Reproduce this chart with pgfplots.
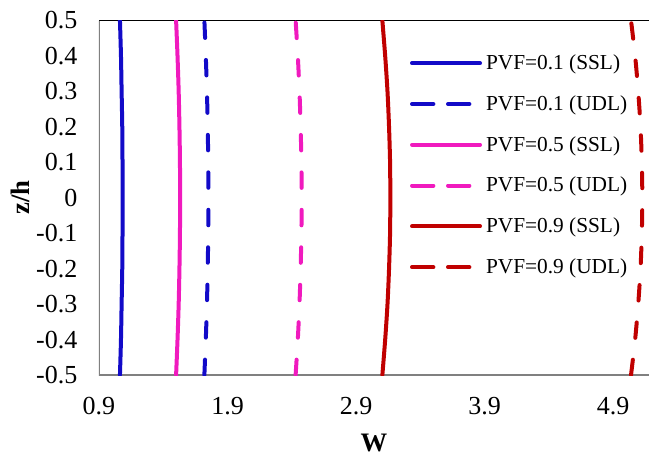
\documentclass[border=0pt]{standalone}
\usepackage{pgfplots}
\pgfplotsset{compat=1.18}
\usepackage{fontspec}
\setmainfont{Liberation Serif}

\definecolor{cblue}{RGB}{18,10,200}
\definecolor{cpink}{RGB}{240,26,190}
\definecolor{cred}{RGB}{192,0,0}
\definecolor{axgray}{RGB}{128,128,128}

\begin{document}
\begin{tikzpicture}
% page frame: room for labels left and below, plot runs to the right edge
\useasboundingbox (-74.25pt,-63.75pt) rectangle (412.5pt,281.3pt);
\begin{axis}[
  at={(0pt,0pt)}, anchor=south west,
  scale only axis,
  width=412.5pt, height=265.9pt,
  xmin=0.9, xmax=5.18,
  ymin=-0.5, ymax=0.5,
  axis line style={draw=none},
  xtick={0.9,1.9,2.9,3.9,4.9},
  xticklabels={0.9,1.9,2.9,3.9,4.9},
  ytick={-0.5,-0.4,-0.3,-0.2,-0.1,0,0.1,0.2,0.3,0.4,0.5},
  yticklabels={-0.5,-0.4,-0.3,-0.2,-0.1,0,0.1,0.2,0.3,0.4,0.5},
  major tick length=0pt,
  tick label style={font=\fontsize{19.5}{22}\selectfont},
  xticklabel style={inner sep=0pt, anchor=north, yshift=-16.5pt},
  yticklabel style={inner sep=0pt, anchor=east, xshift=-16pt},
  xlabel={\textbf{W}},
  ylabel={\textbf{z/h}},
  label style={font=\fontsize{20}{24}\selectfont},
  xlabel style={at={(axis description cs:0.5,0)}, anchor=center, yshift=-51pt},
  ylabel style={at={(axis description cs:-0.143,0.5)}, anchor=center},
  legend style={draw=none, fill=none, inner sep=0pt, outer sep=0pt,
    at={(rel axis cs:0.5655,0.9035)}, anchor=north west,
    font=\fontsize{16}{18}\selectfont, row sep=18pt, column sep=3pt,
    nodes={inner sep=0pt}, legend cell align=left},
  legend image code/.code={\draw[#1] (1.5pt,0pt) -- (52.5pt,0pt);},
  every axis plot/.append style={line width=3pt, line cap=round, smooth, no markers},
  udl/.style={dash pattern=on 11.6pt off 16.5pt,
    legend image code/.code={\draw[##1, dash pattern=on 16pt off 11pt] (1.5pt,0pt) -- (52pt,0pt);}},
  clip=true,
]
% plate frame (top, left and bottom edges)
\draw[black, line width=0.8pt] (rel axis cs:0,1) -- (rel axis cs:1,1);
\draw[axgray, line width=1.3pt] (rel axis cs:0,1) -- (rel axis cs:0,0) -- (rel axis cs:1,0);

\addplot[cblue] coordinates {
 (1.063,-0.5) (1.071,-0.4) (1.076,-0.3) (1.081,-0.2) (1.083,-0.1) (1.084,0)
 (1.083,0.1) (1.081,0.2) (1.076,0.3) (1.071,0.4) (1.063,0.5)};
\addlegendentry{PVF=0.1 (SSL)}
\addplot[cblue, udl] coordinates {
 (1.720,-0.5) (1.731,-0.4) (1.740,-0.3) (1.746,-0.2) (1.750,-0.1) (1.751,0)
 (1.750,0.1) (1.746,0.2) (1.740,0.3) (1.731,0.4) (1.720,0.5)};
\addlegendentry{PVF=0.1 (UDL)}
\addplot[cpink] coordinates {
 (1.500,-0.5) (1.511,-0.4) (1.520,-0.3) (1.526,-0.2) (1.530,-0.1) (1.531,0)
 (1.530,0.1) (1.526,0.2) (1.520,0.3) (1.511,0.4) (1.500,0.5)};
\addlegendentry{PVF=0.5 (SSL)}
\addplot[cpink, udl] coordinates {
 (2.430,-0.5) (2.447,-0.4) (2.460,-0.3) (2.469,-0.2) (2.475,-0.1) (2.477,0)
 (2.475,0.1) (2.469,0.2) (2.460,0.3) (2.447,0.4) (2.430,0.5)};
\addlegendentry{PVF=0.5 (UDL)}
\addplot[cred] coordinates {
 (3.105,-0.5) (3.127,-0.4) (3.145,-0.3) (3.157,-0.2) (3.165,-0.1) (3.167,0)
 (3.165,0.1) (3.157,0.2) (3.145,0.3) (3.127,0.4) (3.105,0.5)};
\addlegendentry{PVF=0.9 (SSL)}
\addplot[cred, udl] coordinates {
 (5.040,-0.5) (5.072,-0.4) (5.096,-0.3) (5.114,-0.2) (5.124,-0.1) (5.128,0)
 (5.124,0.1) (5.114,0.2) (5.096,0.3) (5.072,0.4) (5.040,0.5)};
\addlegendentry{PVF=0.9 (UDL)}
\end{axis}
\end{tikzpicture}
\end{document}
